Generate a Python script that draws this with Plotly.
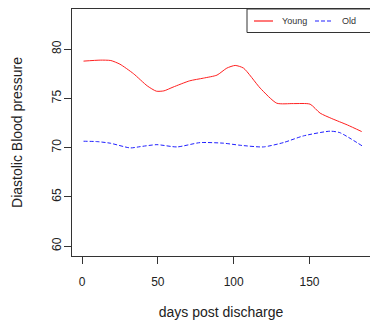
import plotly.graph_objects as go

young_days = [1, 12, 19, 25, 34, 43, 49, 54, 60, 71, 80, 89, 95.5, 101, 106.5, 117.5, 128.4, 139.4, 150.4, 157, 164.7, 175, 184.4]
young_bp = [78.78, 78.88, 78.84, 78.47, 77.5, 76.27, 75.73, 75.76, 76.14, 76.78, 77.05, 77.36, 78.07, 78.34, 78.07, 76.04, 74.51, 74.47, 74.41, 73.5, 72.95, 72.3, 71.63]

old_days = [1, 10, 18.6, 31.8, 38.4, 49.4, 62.6, 77.9, 93.3, 104.3, 119.6, 132.8, 146, 163.6, 170, 185.5]
old_bp = [70.65, 70.61, 70.45, 69.97, 70.1, 70.3, 70.07, 70.51, 70.45, 70.24, 70.07, 70.51, 71.19, 71.67, 71.52, 70.1]

series_names = ["Young", "Old"]
series_colors = ["#FF2020", "#2020FF"]
series_dash = ["solid", "4px,2px"]

x_ticks = [0, 50, 100, 150]
y_ticks = [60, 65, 70, 75, 80]

fig = go.Figure()
fig.add_trace(go.Scatter(x=young_days, y=young_bp, mode="lines", name=series_names[0],
                         line=dict(color=series_colors[0], width=1, shape="spline", smoothing=0.6)))
fig.add_trace(go.Scatter(x=old_days, y=old_bp, mode="lines", name=series_names[1],
                         line=dict(color=series_colors[1], width=1, dash=series_dash[1], shape="spline", smoothing=0.6)))

# manual R-style legend (pixel layout converted to paper coords)
L, R, T, B = 72, 370, 9, 256
def px(xp):
    return (xp - L) / (R - L)
def py(yp):
    return (B - yp) / (B - T)

axis_color = "#333333"
fig.add_shape(type="rect", xref="paper", yref="paper", x0=px(247), x1=px(380), y0=py(32.5), y1=py(9),
              line=dict(color=axis_color, width=1), fillcolor="rgba(0,0,0,0)", layer="above")
leg_y = 21
for (lx0, lx1, tx), name, col, dsh in zip([(254, 273, 280), (315, 333, 340)], series_names, series_colors, series_dash):
    fig.add_shape(type="line", xref="paper", yref="paper", x0=px(lx0), x1=px(lx1), y0=py(leg_y), y1=py(leg_y),
                  line_color=col, line_width=1.2, line_dash=dsh, opacity=1, layer="above")
    fig.add_annotation(text=name, xref="paper", yref="paper", x=px(tx), y=py(leg_y), xanchor="left",
                       yanchor="middle", showarrow=False, font=dict(size=9, color="#333333"))

fig.update_layout(
    width=370, height=325,
    margin=dict(l=72, r=0, t=9, b=69, autoexpand=False),
    paper_bgcolor="white", plot_bgcolor="white",
    font=dict(family="Liberation Sans, Arial, sans-serif", size=12, color="#222222"),
    showlegend=False,
    xaxis=dict(range=[-6.6, 189.9], tickvals=x_ticks, showgrid=False, zeroline=False,
               showline=True, mirror=True, linecolor=axis_color, linewidth=1,
               ticks="outside", ticklen=7, tickcolor=axis_color, ticklabelstandoff=8,
               title=dict(text="days post discharge", standoff=18)),
    yaxis=dict(range=[59.0, 84.07], tickvals=y_ticks, showgrid=False, zeroline=False,
               showline=True, mirror=False, linecolor=axis_color, linewidth=1,
               ticks="outside", ticklen=7, tickcolor=axis_color, tickangle=-90,
               ticklabelstandoff=-2,
               title=dict(text="Diastolic Blood pressure", standoff=24)),
)

fig.write_html("out.html")
